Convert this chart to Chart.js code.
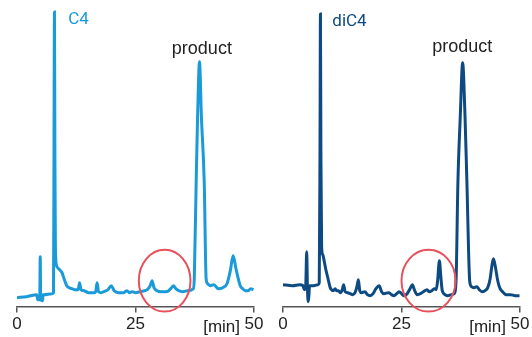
<!DOCTYPE html>
<html>
<head>
<meta charset="utf-8">
<script src="https://cdn.jsdelivr.net/npm/chart.js@4/dist/chart.umd.min.js"></script>
<style>
  body { margin: 0; background: #fff; }
  #wrap { position: relative; width: 532px; height: 337px; }
  canvas { position: absolute; top: 0; }
</style>
</head>
<body>
<div id="wrap">
  <canvas id="left" width="266" height="337" style="left:0"></canvas>
  <canvas id="right" width="266" height="337" style="left:266px"></canvas>
</div>
<script>
// retention time [min] / detector signal (arbitrary units)
var c4Time = [0, 2, 4.2, 4.35, 4.8, 4.9, 5.0, 5.4, 5.5, 5.6, 7.4, 7.7, 7.8, 7.9, 8.0, 8.1, 8.3, 8.6, 9.0, 9.5, 10.0, 10.5, 11.0, 11.6, 12.3, 12.9, 13.2, 13.5, 14.1, 15.1, 16.3, 16.6, 16.9, 17.2, 17.8, 18.3, 19.2, 19.9, 20.5, 21.4, 22.5, 23.2, 23.7, 24.3, 25.0, 26.0, 27.5, 28.1, 28.5, 28.9, 29.5, 30.5, 31.3, 32.0, 32.6, 33.0, 33.5, 34.1, 35.0, 36.0, 37.2, 37.4, 37.8, 38.1, 38.5, 38.9, 39.5, 39.9, 40.2, 40.8, 41.5, 42.5, 43.4, 44.3, 45.0, 45.6, 46.2, 47.1, 47.6, 48.2, 48.8, 49.3, 49.9];
var c4Signal = [9, 10, 12, 7, 7, 50, 7, 6, 12, 12, 13, 14, 150, 296, 150, 60, 42, 39, 37, 34, 27, 21, 19, 18, 17, 17, 24, 17, 16, 14, 14, 15, 24, 15, 14, 15, 17, 21, 16, 14, 14, 16, 14, 15, 14, 15, 17, 21, 26, 19, 16, 15, 15, 16, 19, 21, 18, 16, 15, 16, 18, 28, 125, 191, 246, 191, 125, 28, 23, 21, 22, 18, 19, 23, 36, 51, 38, 21, 18, 16, 16, 18, 17];

var diC4Time = [0, 2, 3.5, 4.2, 4.5, 4.8, 5.0, 5.15, 5.3, 5.45, 5.6, 6.5, 7.4, 7.65, 7.8, 7.9, 8.0, 8.15, 8.4, 8.6, 9.0, 9.5, 9.9, 10.2, 10.6, 11.0, 11.3, 11.7, 12.1, 12.5, 12.8, 13.1, 13.6, 14.2, 14.7, 15.2, 15.6, 15.9, 16.2, 16.6, 17.3, 17.8, 18.4, 19.0, 19.6, 20.3, 20.8, 21.3, 22.3, 22.9, 23.4, 24.0, 24.5, 25.0, 25.5, 26.2, 26.8, 27.3, 27.7, 28.3, 29.0, 29.6, 30.4, 30.8, 31.4, 31.9, 32.3, 32.6, 33.0, 33.3, 33.6, 34.2, 34.8, 35.5, 36.1, 36.5, 36.9, 37.4, 37.9, 38.4, 38.8, 39.4, 39.8, 40.3, 40.9, 41.4, 42.0, 42.6, 43.2, 43.7, 44.1, 44.4, 44.8, 45.3, 45.8, 46.3, 47.1, 48.0, 49.0, 49.9];
var diC4Signal = [22, 21, 22, 21, 17, 22, 55, 20, 5, 10, 21, 21, 22, 24, 150, 294, 150, 60, 52, 48, 38, 28, 20, 17, 16, 18, 16, 16, 14, 17, 22, 15, 14, 13, 12, 14, 20, 27, 16, 14, 15, 12, 11, 13, 18, 21, 15, 13, 14, 12, 11, 13, 15, 13, 11, 13, 18, 22, 17, 12, 13, 15, 17, 15, 16, 18, 17, 25, 46, 30, 16, 12, 11, 12, 13, 25, 125, 191, 245, 191, 125, 25, 20, 19, 20, 17, 15, 16, 19, 28, 42, 48, 40, 26, 18, 15, 12, 12, 11, 11];

var timeTicks = [0, 25, 50];
var traceNames = ["C4", "diC4"];
var peakName = "product";

function points(xs, ys) {
  return xs.map(function (x, i) { return { x: x, y: ys[i] }; });
}

// labels and the red oval, placed on the chart scales
var notes = {
  id: "notes",
  afterDatasetsDraw: function (chart, args, opts) {
    var ctx = chart.ctx;
    var xs = chart.scales.x, ys = chart.scales.y;
    ctx.save();
    // oval around the small peaks
    var x0 = xs.getPixelForValue(opts.ovalFrom), x1 = xs.getPixelForValue(opts.ovalTo);
    var y0 = ys.getPixelForValue(opts.ovalTop), y1 = ys.getPixelForValue(opts.ovalBottom);
    ctx.strokeStyle = "#e8505b";
    ctx.lineWidth = 2;
    ctx.beginPath();
    ctx.ellipse((x0 + x1) / 2, (y0 + y1) / 2, (x1 - x0) / 2, (y1 - y0) / 2, 0, 0, Math.PI * 2);
    ctx.stroke();
    // trace name
    ctx.fillStyle = opts.color;
    ctx.font = "17px Roboto";
    ctx.textAlign = "left";
    ctx.textBaseline = "middle";
    ctx.fillText(opts.name, xs.getPixelForValue(opts.nameAt[0]), ys.getPixelForValue(opts.nameAt[1]));
    // product label
    ctx.fillStyle = "#222";
    ctx.font = "18px 'Liberation Sans', Arial";
    ctx.textAlign = "center";
    ctx.fillText(peakName, xs.getPixelForValue(opts.productAt[0]), ys.getPixelForValue(opts.productAt[1]));
    // unit
    ctx.font = "17px 'Liberation Sans', Arial";
    ctx.textAlign = "right";
    ctx.fillText("[min]", xs.getPixelForValue(50) - 14, xs.bottom - 10);
    ctx.restore();
  }
};

function makeChart(id, xs, ys, color, extra) {
  return new Chart(document.getElementById(id).getContext("2d"), {
    type: "line",
    data: {
      datasets: [{
        data: points(xs, ys),
        borderColor: color,
        borderWidth: 3,
        pointRadius: 0,
        cubicInterpolationMode: "monotone",
        fill: false
      }]
    },
    options: {
      responsive: false,
      animation: false,
      layout: { padding: { left: 17, right: 12, top: 8, bottom: 0 } },
      plugins: { legend: { display: false }, tooltip: { enabled: false }, notes: extra },
      scales: {
        x: {
          type: "linear",
          min: 0,
          max: 50,
          afterBuildTicks: function (axis) {
            axis.ticks = timeTicks.map(function (v) { return { value: v }; });
          },
          border: { display: true, color: "#555", width: 1.5 },
          grid: { display: true, drawOnChartArea: false, drawTicks: true, tickLength: 6, color: "#555", lineWidth: 1.5 },
          ticks: { color: "#222", padding: 2, maxRotation: 0, font: { family: "'Liberation Sans', Arial", size: 17 } }
        },
        y: { display: false, min: 0, max: 300 }
      }
    },
    plugins: [notes]
  });
}

makeChart("left", c4Time, c4Signal, "#1a9ad8", {
  color: "#1a9ad8", name: traceNames[0], nameAt: [10.8, 288], productAt: [39.0, 259],
  ovalFrom: 25.7, ovalTo: 36.6, ovalTop: 57, ovalBottom: -5
});
makeChart("right", diC4Time, diC4Signal, "#0e4a82", {
  color: "#0e4a82", name: traceNames[1], nameAt: [10.4, 286], productAt: [37.8, 261],
  ovalFrom: 25.0, ovalTo: 36.4, ovalTop: 57, ovalBottom: -5
});
</script>
</body>
</html>
